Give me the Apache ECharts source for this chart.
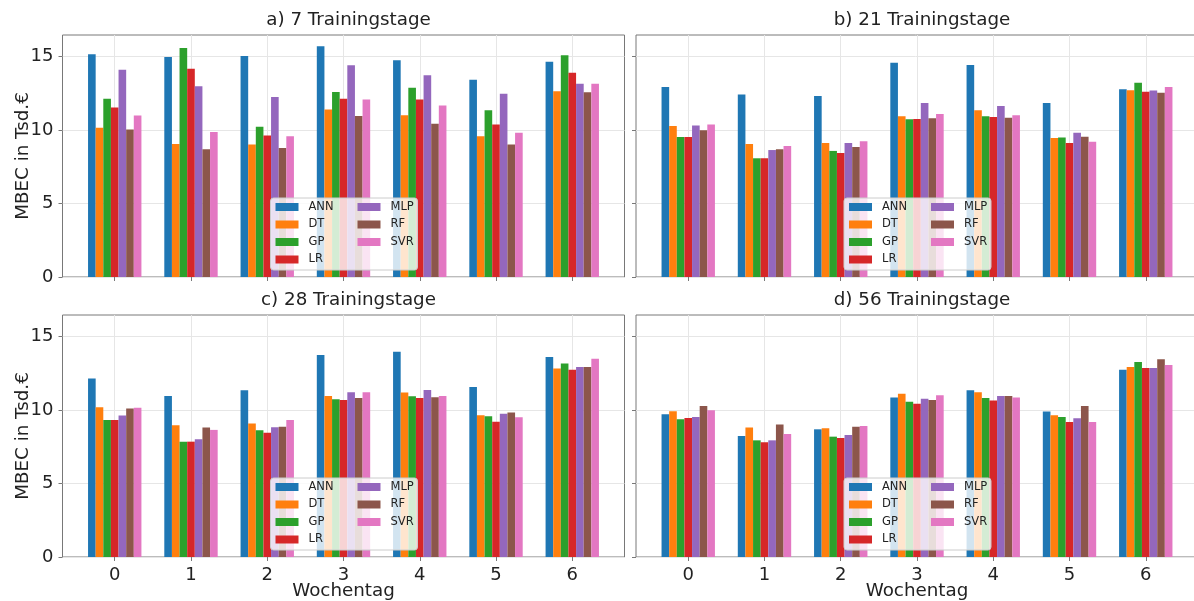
<!DOCTYPE html>
<html>
<head>
<meta charset="utf-8">
<script src="https://cdn.jsdelivr.net/npm/echarts@6.0.0/dist/echarts.min.js"></script>
<style>
  html, body { margin: 0; padding: 0; background: #fff; }
  #chart { width: 1194px; height: 601px; }
</style>
</head>
<body>
<div id="chart"></div>
<script>
// Weekday categories and model names
const days = [0, 1, 2, 3, 4, 5, 6];
const models = ['ANN', 'DT', 'GP', 'LR', 'MLP', 'RF', 'SVR'];
const modelColors = ['#1f77b4', '#ff7f0e', '#2ca02c', '#d62728', '#9467bd', '#8c564b', '#e377c2'];
const yTicks = [0, 5, 10, 15];

// a) 7 training days – MBEC in thousand €
const ANN_7 = [15.14, 14.96, 15.02, 15.68, 14.73, 13.41, 14.64];
const DT_7  = [10.15, 9.04, 9.00, 11.38, 10.99, 9.56, 12.62];
const GP_7  = [12.12, 15.57, 10.22, 12.58, 12.87, 11.33, 15.07];
const LR_7  = [11.53, 14.16, 9.61, 12.12, 12.06, 10.36, 13.89];
const MLP_7 = [14.09, 12.96, 12.24, 14.39, 13.71, 12.46, 13.14];
const RF_7  = [10.02, 8.68, 8.77, 10.94, 10.42, 9.00, 12.55];
const SVR_7 = [10.97, 9.86, 9.56, 12.06, 11.65, 9.81, 13.14];

// b) 21 training days
const ANN_21 = [12.92, 12.40, 12.30, 14.57, 14.41, 11.83, 12.76];
const DT_21  = [10.27, 9.04, 9.11, 10.92, 11.33, 9.45, 12.69];
const GP_21  = [9.52, 8.07, 8.57, 10.72, 10.92, 9.49, 13.21];
const LR_21  = [9.52, 8.07, 8.43, 10.74, 10.88, 9.11, 12.60];
const MLP_21 = [10.29, 8.63, 9.11, 11.83, 11.62, 9.81, 12.67];
const RF_21  = [9.97, 8.68, 8.84, 10.79, 10.83, 9.54, 12.53];
const SVR_21 = [10.36, 8.91, 9.22, 11.08, 10.99, 9.20, 12.92];

// c) 28 training days
const ANN_28 = [12.14, 10.95, 11.34, 13.73, 13.95, 11.55, 13.59];
const DT_28  = [10.18, 8.95, 9.07, 10.95, 11.18, 9.64, 12.82];
const GP_28  = [9.32, 7.84, 8.61, 10.73, 10.93, 9.57, 13.16];
const LR_28  = [9.32, 7.84, 8.45, 10.68, 10.80, 9.20, 12.73];
const MLP_28 = [9.61, 8.00, 8.82, 11.20, 11.36, 9.73, 12.91];
const RF_28  = [10.09, 8.80, 8.86, 10.80, 10.86, 9.82, 12.91];
const SVR_28 = [10.14, 8.64, 9.32, 11.20, 10.95, 9.50, 13.48];

// d) 56 training days
const ANN_56 = [9.70, 8.23, 8.68, 10.84, 11.34, 9.89, 12.73];
const DT_56  = [9.91, 8.80, 8.75, 11.09, 11.20, 9.64, 12.91];
const GP_56  = [9.36, 7.93, 8.18, 10.55, 10.80, 9.52, 13.25];
const LR_56  = [9.45, 7.80, 8.09, 10.41, 10.64, 9.18, 12.84];
const MLP_56 = [9.52, 7.93, 8.30, 10.75, 10.95, 9.43, 12.84];
const RF_56  = [10.27, 9.00, 8.86, 10.68, 10.95, 10.27, 13.45];
const SVR_56 = [9.98, 8.36, 8.91, 11.00, 10.84, 9.18, 13.05];

const panelTitles = ['a) 7 Trainingstage', 'b) 21 Trainingstage', 'c) 28 Trainingstage', 'd) 56 Trainingstage'];
const panelData = [
  [ANN_7, DT_7, GP_7, LR_7, MLP_7, RF_7, SVR_7],
  [ANN_21, DT_21, GP_21, LR_21, MLP_21, RF_21, SVR_21],
  [ANN_28, DT_28, GP_28, LR_28, MLP_28, RF_28, SVR_28],
  [ANN_56, DT_56, GP_56, LR_56, MLP_56, RF_56, SVR_56]
];

// Panel geometry (2 x 2)
const FONT = 'DejaVu Sans';
const frameColor = '#787878';
const panelW = 562, panelH = 242;
const panelLeft = [62.5, 636, 62.5, 636];
const panelTop = [35, 35, 315, 315];

const chart = echarts.init(document.getElementById('chart'), null, { renderer: 'canvas' });

const grids = [], xAxes = [], yAxes = [], series = [], titles = [], legends = [], graphics = [];

for (let p = 0; p < 4; p++) {
  const isLeft = p % 2 === 0;
  const isBottom = p >= 2;
  const L = panelLeft[p], T = panelTop[p];

  grids.push({
    left: L, top: T, width: panelW, height: panelH,
    outerBoundsMode: 'none', containLabel: false,
    show: true, borderColor: frameColor, borderWidth: 1, backgroundColor: 'transparent'
  });

  xAxes.push({
    type: 'value', gridIndex: p, min: -0.685, max: 6.685,
    name: isBottom ? 'Wochentag' : '', nameLocation: 'middle', nameGap: 25, nameMoveOverlap: false,
    nameTextStyle: { fontFamily: FONT, fontSize: 18.3, color: '#222' },
    axisLine: { show: false, onZero: false },
    axisTick: { show: true, customValues: days, length: 4, lineStyle: { color: frameColor } },
    axisLabel: { show: isBottom, customValues: days, margin: 9, fontFamily: FONT, fontSize: 18, color: '#222' },
    splitLine: { show: true, lineStyle: { color: '#e6e6e6', width: 1 } }
  });

  yAxes.push({
    type: 'value', gridIndex: p, min: 0, max: 16.45,
    name: isLeft ? 'MBEC in Tsd.€' : '', nameLocation: 'middle', nameGap: 30, nameMoveOverlap: false,
    nameTextStyle: { fontFamily: FONT, fontSize: 18.3, color: '#222' },
    axisLine: { show: false, onZero: false },
    axisTick: { show: true, customValues: yTicks, length: 4, lineStyle: { color: frameColor } },
    axisLabel: { show: isLeft, customValues: yTicks, margin: 9, fontFamily: FONT, fontSize: 18, color: '#222' },
    splitLine: { show: true, lineStyle: { color: '#e6e6e6', width: 1 } }
  });

  titles.push({
    text: panelTitles[p], left: L + panelW / 2, top: T - 29, textAlign: 'center',
    textStyle: { fontFamily: FONT, fontSize: 18.3, fontWeight: 'normal', color: '#222' }
  });

  models.forEach((m, i) => {
    series.push({
      name: m, type: 'bar', xAxisIndex: p, yAxisIndex: p,
      barGap: '0%', barCategoryGap: '30%',
      itemStyle: { color: modelColors[i] },
      emphasis: { disabled: true },
      data: days.map((d, k) => [d, panelData[p][i][k]])
    });
  });

  // Legend box (semi-transparent) with two columns
  graphics.push({
    type: 'rect', z: 10,
    shape: { x: L + 208, y: T + 163, width: 147, height: 72, r: 3 },
    style: { fill: 'rgba(255,255,255,0.8)', stroke: '#cccccc', lineWidth: 1 }
  });
  [models.slice(0, 4), models.slice(4)].forEach((names, c) => {
    legends.push({
      data: names, orient: 'vertical', left: L + 213 + c * 82, top: T + 165,
      z: 20, padding: 0, itemGap: 3.5, itemWidth: 23, itemHeight: 8, icon: 'rect',
      selectedMode: false,
      textStyle: { fontFamily: FONT, fontSize: 11.5, color: '#222', lineHeight: 14, padding: [0, 0, 0, 5] }
    });
  });
}

chart.setOption({
  animation: false,
  color: modelColors,
  title: titles,
  grid: grids,
  xAxis: xAxes,
  yAxis: yAxes,
  legend: legends,
  graphic: graphics,
  series: series
});
</script>
</body>
</html>
